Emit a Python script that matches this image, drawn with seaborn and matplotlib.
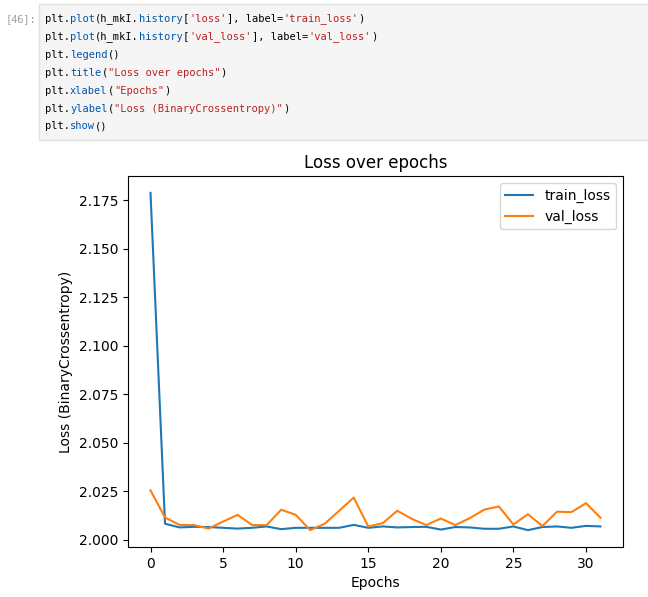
import numpy as np
import pandas as pd
import matplotlib
matplotlib.use('Agg')
import matplotlib.pyplot as plt
import seaborn as sns

# Loss values
epochs = list(range(32))
train_loss = [2.1788, 2.0083, 2.0064, 2.0067, 2.0066, 2.0062, 2.0058, 2.0062,
              2.0069, 2.0055, 2.0062, 2.0062, 2.0062, 2.0062, 2.0077, 2.0062,
              2.0069, 2.0064, 2.0066, 2.0067, 2.0053, 2.0066, 2.0064, 2.0057,
              2.0057, 2.0069, 2.0050, 2.0066, 2.0069, 2.0062, 2.0072, 2.0069]
val_loss = [2.0255, 2.0115, 2.0077, 2.0076, 2.0058, 2.0094, 2.0129, 2.0076,
            2.0076, 2.0155, 2.0129, 2.0050, 2.0083, 2.0150, 2.0218, 2.0069,
            2.0086, 2.0150, 2.0108, 2.0076, 2.0110, 2.0076, 2.0112, 2.0156,
            2.0172, 2.0079, 2.0132, 2.0071, 2.0145, 2.0143, 2.0189, 2.0114]

# Notebook cell shown above the chart: (text, colour) tokens per line
K, B, R = '#000000', '#0055aa', '#ba2121'
code_lines = [
    [('plt.', K), ('plot', B), ('(h_mkI.', K), ('history', B), ('[', K), ("'loss'", R),
     ('], label=', K), ("'train_loss'", R), (')', K)],
    [('plt.', K), ('plot', B), ('(h_mkI.', K), ('history', B), ('[', K), ("'val_loss'", R),
     ('], label=', K), ("'val_loss'", R), (')', K)],
    [('plt.', K), ('legend', B), ('()', K)],
    [('plt.', K), ('title', B), ('(', K), ('"Loss over epochs"', R), (')', K)],
    [('plt.', K), ('xlabel', B), ('(', K), ('"Epochs"', R), (')', K)],
    [('plt.', K), ('ylabel', B), ('(', K), ('"Loss (BinaryCrossentropy)"', R), (')', K)],
    [('plt.', K), ('show', B), ('()', K)],
]

W, H = 648, 597
fig = plt.figure(figsize=(W / 100, H / 100), dpi=100)

# code cell background
cell = plt.Rectangle((39 / W, 1 - 140 / H), 1.0, 136 / H, transform=fig.transFigure,
                     facecolor='#f5f5f5', edgecolor='#e0e0e0', linewidth=1)
fig.patches.append(cell)
fig.text(6 / W, 1 - 19 / H, '[46]:', family='DejaVu Sans Mono', fontsize=7.4,
         color='#9e9e9e', va='center', ha='left')

mono_size = 7.5
char_px = 0.602 * mono_size * 100 / 72
for row, tokens in enumerate(code_lines):
    y = 1 - (18.5 + 18 * row) / H
    x = 45
    for txt, col in tokens:
        fig.text(x / W, y, txt, family='DejaVu Sans Mono', fontsize=mono_size,
                 color=col, va='center', ha='left')
        x += len(txt) * char_px

# loss chart
ax = fig.add_axes([128 / W, 1 - 547 / H, 495 / W, 371 / H])
df = pd.DataFrame({'epoch': epochs, 'train_loss': train_loss, 'val_loss': val_loss})
sns.lineplot(data=df, x='epoch', y='train_loss', ax=ax, label='train_loss', color='C0')
sns.lineplot(data=df, x='epoch', y='val_loss', ax=ax, label='val_loss', color='C1')
ax.legend(loc='upper right')
ax.set_title('Loss over epochs')
ax.set_xlabel('Epochs')
ax.set_ylabel('Loss (BinaryCrossentropy)')
ax.set_xticks([0, 5, 10, 15, 20, 25, 30])
ax.set_yticks([2.000, 2.025, 2.050, 2.075, 2.100, 2.125, 2.150, 2.175])

fig.savefig('out.png', dpi=100)
